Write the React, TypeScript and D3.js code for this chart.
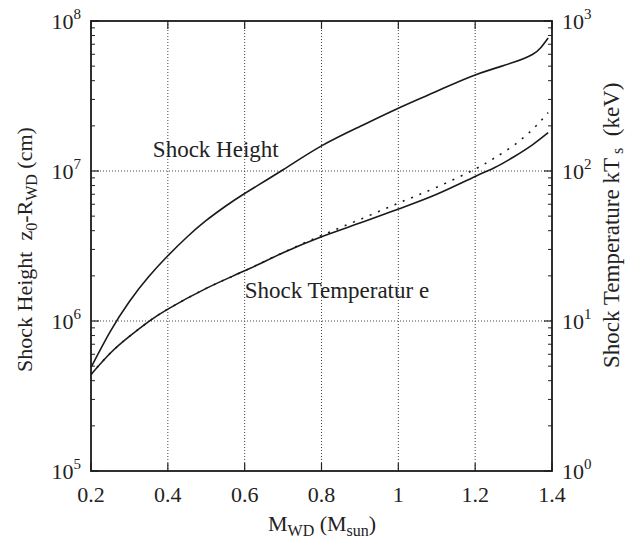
import { useEffect, useRef } from 'react';
import * as d3 from 'd3';

// white dwarf mass (M_sun)
const massH = [0.2, 0.25, 0.3, 0.35, 0.4, 0.45, 0.5, 0.55, 0.6, 0.7, 0.8, 0.9, 1.0, 1.1, 1.2, 1.3, 1.35, 1.37, 1.39];
// shock height z0 - R_WD (cm)
const height = [4.9e5, 8.5e5, 1.35e6, 1.97e6, 2.72e6, 3.63e6, 4.68e6, 5.82e6, 7.08e6, 1.02e7, 1.47e7, 1.98e7, 2.62e7, 3.4e7, 4.37e7, 5.3e7, 6.0e7, 6.6e7, 7.7e7];

const massT = [0.2, 0.25, 0.3, 0.35, 0.4, 0.5, 0.6, 0.7, 0.8, 0.9, 1.0, 1.1, 1.2, 1.25, 1.3, 1.35, 1.39];
// shock temperature kT_s (keV), solid
const tempSolid = [4.4, 6.1, 7.9, 9.9, 12.0, 16.5, 21.6, 28.5, 36.5, 45, 55.8, 70, 92, 105, 124, 150, 180];
// dotted variant
const tempDotted = [4.4, 6.1, 7.9, 9.9, 12.0, 16.5, 21.6, 28.6, 37.2, 47.5, 61, 78, 103, 122, 148, 190, 245];

const xTicks = [0.2, 0.4, 0.6, 0.8, 1, 1.2, 1.4];
const leftDecades = [5, 6, 7, 8];
const rightDecades = [0, 1, 2, 3];

const W = 628;
const H = 546;
const margin = { top: 21, right: 76, bottom: 75, left: 91 };
const FONT = '"Liberation Serif", "DejaVu Serif", serif';

export default function App() {
  const svgRef = useRef<SVGSVGElement | null>(null);

  useEffect(() => {
    document.body.style.margin = '0';
    const svg = d3.select(svgRef.current);
    svg.selectAll('*').remove();

    const innerW = W - margin.left - margin.right;
    const innerH = H - margin.top - margin.bottom;

    const x = d3.scaleLinear().domain([0.2, 1.4]).range([0, innerW]);
    const yL = d3.scaleLog().domain([1e5, 1e8]).range([innerH, 0]);
    const yR = d3.scaleLog().domain([1, 1e3]).range([innerH, 0]);

    const g = svg.append('g').attr('transform', `translate(${margin.left},${margin.top})`);

    // grid
    xTicks.slice(1, -1).forEach(t => {
      g.append('line')
        .attr('x1', x(t)).attr('x2', x(t)).attr('y1', 0).attr('y2', innerH)
        .attr('stroke', '#444').attr('stroke-width', 1).attr('stroke-dasharray', '1,2');
    });
    leftDecades.slice(1, -1).forEach(d => {
      g.append('line')
        .attr('x1', 0).attr('x2', innerW).attr('y1', yL(10 ** d)).attr('y2', yL(10 ** d))
        .attr('stroke', '#444').attr('stroke-width', 1).attr('stroke-dasharray', '1,2');
    });

    // minor log ticks on both sides
    const minor: number[] = [];
    for (let d = 5; d < 8; d++) for (let m = 2; m <= 9; m++) minor.push(m * 10 ** d);
    minor.forEach(v => {
      g.append('line').attr('x1', 0).attr('x2', 4).attr('y1', yL(v)).attr('y2', yL(v))
        .attr('stroke', '#222').attr('stroke-width', 1);
      g.append('line').attr('x1', innerW).attr('x2', innerW - 4).attr('y1', yL(v)).attr('y2', yL(v))
        .attr('stroke', '#222').attr('stroke-width', 1);
    });
    leftDecades.forEach(d => {
      g.append('line').attr('x1', 0).attr('x2', 8).attr('y1', yL(10 ** d)).attr('y2', yL(10 ** d))
        .attr('stroke', '#222').attr('stroke-width', 1.2);
      g.append('line').attr('x1', innerW).attr('x2', innerW - 8).attr('y1', yL(10 ** d)).attr('y2', yL(10 ** d))
        .attr('stroke', '#222').attr('stroke-width', 1.2);
    });
    xTicks.forEach(t => {
      g.append('line').attr('x1', x(t)).attr('x2', x(t)).attr('y1', innerH).attr('y2', innerH - 8)
        .attr('stroke', '#222').attr('stroke-width', 1.2);
      g.append('line').attr('x1', x(t)).attr('x2', x(t)).attr('y1', 0).attr('y2', 8)
        .attr('stroke', '#222').attr('stroke-width', 1.2);
    });

    // frame
    g.append('rect').attr('width', innerW).attr('height', innerH)
      .attr('fill', 'none').attr('stroke', '#1a1a1a').attr('stroke-width', 1.8);

    // curves
    const lineH = d3.line<number>().x((_, i) => x(massH[i])).y(d => yL(d)).curve(d3.curveNatural);
    const lineT = d3.line<number>().x((_, i) => x(massT[i])).y(d => yR(d)).curve(d3.curveNatural);

    g.append('path').attr('d', lineH(height)).attr('fill', 'none')
      .attr('stroke', '#1a1a1a').attr('stroke-width', 1.6);
    g.append('path').attr('d', lineT(tempDotted)).attr('fill', 'none')
      .attr('stroke', '#1a1a1a').attr('stroke-width', 1.6).attr('stroke-dasharray', '2,7');
    g.append('path').attr('d', lineT(tempSolid)).attr('fill', 'none')
      .attr('stroke', '#1a1a1a').attr('stroke-width', 1.6);

    // x tick labels
    xTicks.forEach(t => {
      g.append('text').attr('x', x(t)).attr('y', innerH + 31)
        .attr('text-anchor', 'middle').attr('font-family', FONT).attr('font-size', 22)
        .attr('fill', '#222').text(String(t));
    });

    // decade labels
    const decade = (px: number, py: number, exp: number, anchorRight: boolean) => {
      const t = g.append('text').attr('x', px).attr('y', py)
        .attr('font-family', FONT).attr('font-size', 22).attr('fill', '#222')
        .attr('text-anchor', anchorRight ? 'end' : 'start');
      t.append('tspan').text('10');
      t.append('tspan').attr('dy', -10).attr('font-size', 15).text(String(exp));
    };
    leftDecades.forEach(d => decade(-10, yL(10 ** d) + 8, d, true));
    rightDecades.forEach(d => decade(innerW + 10, yR(10 ** d) + 8, d, false));

    // annotations
    g.append('text').attr('x', x(0.361)).attr('y', 136)
      .attr('font-family', FONT).attr('font-size', 23).attr('fill', '#222').text('Shock Height');
    g.append('text').attr('x', x(0.6)).attr('y', 277)
      .attr('font-family', FONT).attr('font-size', 23).attr('fill', '#222').text('Shock Temperatur e');

    // x axis title
    const xt = svg.append('text').attr('x', 268).attr('y', 531)
      .attr('font-family', FONT).attr('font-size', 22).attr('fill', '#222');
    xt.append('tspan').text('M');
    xt.append('tspan').attr('dy', 5).attr('font-size', 16).text('WD');
    xt.append('tspan').attr('dy', -5).text(' (M');
    xt.append('tspan').attr('dy', 5).attr('font-size', 16).text('sun');
    xt.append('tspan').attr('dy', -5).text(')');

    // left y title
    const yt = svg.append('text').attr('transform', 'translate(32,372) rotate(-90)')
      .attr('font-family', FONT).attr('font-size', 22).attr('fill', '#222')
      .style('white-space', 'pre');
    yt.append('tspan').text('Shock Height  z');
    yt.append('tspan').attr('dy', 5).attr('font-size', 16).text('0');
    yt.append('tspan').attr('dy', -5).text('-R');
    yt.append('tspan').attr('dy', 5).attr('font-size', 16).text('WD');
    yt.append('tspan').attr('dy', -5).text(' (cm)');

    // right y title
    const rt = svg.append('text').attr('transform', 'translate(619,368) rotate(-90)')
      .attr('font-family', FONT).attr('font-size', 23).attr('fill', '#222')
      .style('white-space', 'pre');
    rt.append('tspan').text('Shock Temperature kT');
    rt.append('tspan').attr('dy', 4).attr('font-size', 16).text(' s');
    rt.append('tspan').attr('dy', -4).text('  (keV)');
  }, []);

  return <svg ref={svgRef} width={W} height={H} style={{ display: 'block', background: '#fff' }} />;
}
